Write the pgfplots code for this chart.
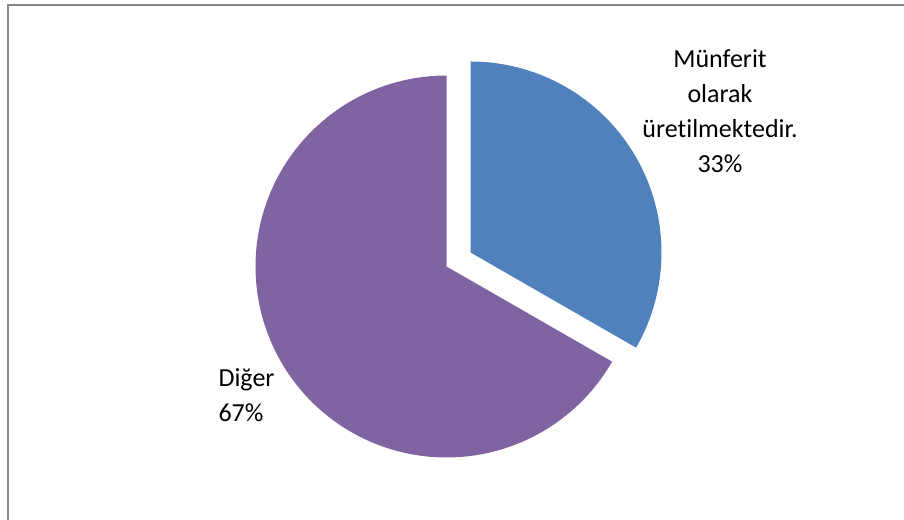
\documentclass[border=0pt]{standalone}
\usepackage{pgfplots}
\pgfplotsset{compat=1.18}
\usepackage{fontspec}
\setmainfont[Ligatures=NoCommon]{Carlito}
\definecolor{sliceblue}{HTML}{4F81BD}
\definecolor{slicepurple}{HTML}{8064A2}
\definecolor{framegray}{HTML}{868686}
% data: share of each category (percent)
\def\valA{33.3}% Munferit olarak uretilmektedir.
\def\valB{66.7}% Diger
\begin{document}
\begin{tikzpicture}
\begin{axis}[
  scale only axis, width=904pt, height=519pt,
  xmin=0, xmax=904, ymin=0, ymax=519,
  axis lines=none, clip=false,
]
% frame (left and top edges visible)
\draw[framegray, line width=2pt] (axis cs:8,-20) -- (axis cs:8,514) -- (axis cs:930,514);
% blue slice (exploded)
\pgfmathsetmacro{\angA}{90-3.6*\valA}
\addplot[fill=sliceblue, draw=none, domain=90:\angA, samples=120]
  ({470.5+191*cos(x)}, {266.5+191*sin(x)}) -- (axis cs:470.5,266.5) -- cycle;
% purple slice
\addplot[fill=slicepurple, draw=none, domain=\angA:{\angA-3.6*\valB}, samples=200]
  ({446.5+191*cos(x)}, {252.5+191*sin(x)}) -- (axis cs:446.5,252.5) -- cycle;
\node[font=\fontsize{26}{35}\selectfont, align=center] at (axis cs:720,408)
  {Münferit\\olarak\\üret\kern0pt ilmektedir.\\33\%};
\node[font=\fontsize{26}{35}\selectfont, align=left, anchor=west] at (axis cs:215,124)
  {Diğer\\67\%};
\end{axis}
\pgfresetboundingbox
\path[use as bounding box] (0,0) rectangle (904pt,519pt);
\end{tikzpicture}
\end{document}
